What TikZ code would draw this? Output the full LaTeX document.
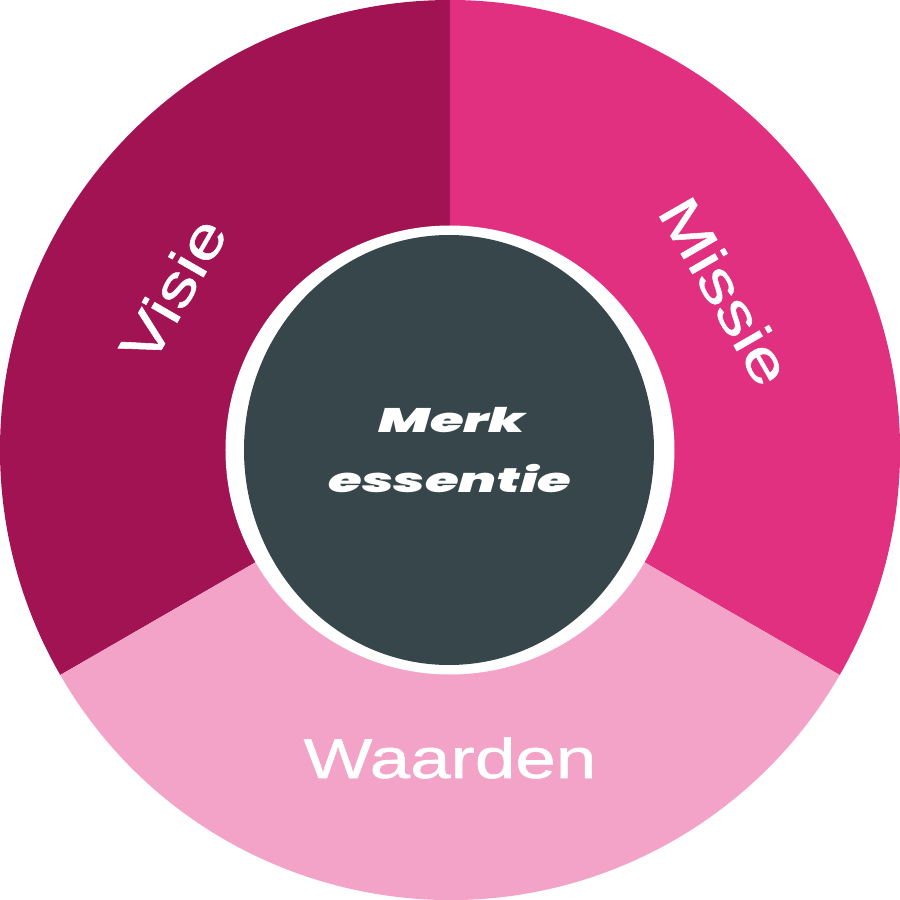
\documentclass[tikz,border=0pt]{standalone}
\usepackage{fontspec}
\setmainfont{Liberation Sans}
\newfontfamily\labelfont[FakeStretch=1.3,FakeBold=1]{Liberation Sans}
\newfontfamily\merkfont[FakeStretch=1.6]{Poppins Black Italic}
\definecolor{visiecol}{HTML}{A11353}
\definecolor{missiecol}{HTML}{E0307F}
\definecolor{waardencol}{HTML}{F3A3C8}
\definecolor{kerncol}{HTML}{36464A}
\tikzset{
  segtext/.style={text=white,font=\labelfont\fontsize{56}{60}\selectfont,inner sep=0pt},
  kerntext/.style={text=white,font=\merkfont\fontsize{34}{36}\selectfont,inner sep=0pt,anchor=base}
}
\begin{document}
\begin{tikzpicture}[x=1pt,y=1pt]
      \useasboundingbox (-450,-450) rectangle (450,450);
      \fill [visiecol] (0,0) -- (90:450) arc [start angle=90,end angle=210,radius=450] -- cycle;
      \fill [missiecol] (0,0) -- (-30:450) arc [start angle=-30,end angle=90,radius=450] -- cycle;
      \fill [waardencol] (0,0) -- (210:450) arc [start angle=210,end angle=330,radius=450] -- cycle;
      \fill [white] (0,0) circle (224.5);
      \fill [kerncol] (-1,0) ellipse [x radius=205,y radius=215];
      \node [segtext,rotate=60] (visie) at (150:320) {Visie};
      \node [segtext,rotate=-60] (missie) at (30:318) {Missie};
      \node [segtext,anchor=base] (waarden) at (0,-328) {Waarden};
      \node [kerntext] (merk) at (2,18) {Merk};
      \node [kerntext] (essentie) at (0,-42) {essentie};
    \end{tikzpicture}
\end{document}
